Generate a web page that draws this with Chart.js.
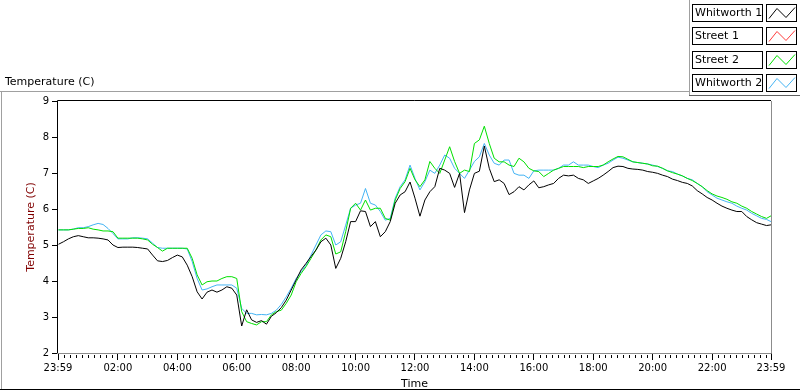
<!DOCTYPE html>
<html>
<head>
<meta charset="utf-8">
<script src="https://cdn.jsdelivr.net/npm/chart.js@4.4.0/dist/chart.umd.min.js"></script>
<style>
  body { margin: 0; background: #fff; }
  #wrap { position: relative; width: 800px; height: 392px; }
</style>
</head>
<body>
<div id="wrap"><canvas id="tempChart"></canvas></div>
<script>
// minutes after midnight (-1 = 23:59 of the day before)
const times = [
  0, 10, 20, 30, 40, 50, 60, 70, 80, 90,
  100, 110, 120, 130, 140, 150, 160, 170, 180, 190,
  200, 210, 220, 230, 240, 250, 260, 270, 280, 290,
  300, 310, 320, 330, 340, 350, 360, 370, 380, 390,
  400, 410, 420, 430, 440, 450, 460, 470, 480, 490,
  500, 510, 520, 530, 540, 550, 560, 570, 580, 590,
  600, 610, 620, 630, 640, 650, 660, 670, 680, 690,
  700, 710, 720, 730, 740, 750, 760, 770, 780, 790,
  800, 810, 820, 830, 840, 850, 860, 870, 880, 890,
  900, 910, 920, 930, 940, 950, 960, 970, 980, 990,
  1000, 1010, 1020, 1030, 1040, 1050, 1060, 1070, 1080, 1090,
  1100, 1110, 1120, 1130, 1140, 1150, 1160, 1170, 1180, 1190,
  1200, 1210, 1220, 1230, 1240, 1250, 1260, 1270, 1280, 1290,
  1300, 1310, 1320, 1330, 1340, 1350, 1360, 1370, 1380, 1390,
  1400, 1410, 1420, 1430, 1439
];

const whitworth1 = [
  5.02, 5.09, 5.17, 5.23, 5.26, 5.23, 5.20, 5.20, 5.19, 5.17,
  5.14, 5.00, 4.93, 4.94, 4.94, 4.94, 4.93, 4.91, 4.89, 4.72,
  4.56, 4.54, 4.57, 4.65, 4.72, 4.67, 4.44, 4.12, 3.70, 3.50,
  3.69, 3.75, 3.69, 3.75, 3.84, 3.80, 3.61, 2.75, 3.20, 2.92,
  2.85, 2.90, 2.80, 3.02, 3.12, 3.26, 3.47, 3.75, 4.03, 4.31,
  4.49, 4.68, 4.86, 5.09, 5.19, 5.00, 4.35, 4.63, 5.09, 5.65,
  5.65, 5.95, 5.93, 5.51, 5.65, 5.23, 5.37, 5.65, 6.16, 6.39,
  6.48, 6.75, 6.30, 5.80, 6.25, 6.48, 6.62, 7.13, 7.08, 6.99,
  6.60, 6.99, 5.90, 6.53, 6.99, 7.05, 7.75, 7.13, 6.76, 6.81,
  6.71, 6.40, 6.48, 6.62, 6.53, 6.67, 6.78, 6.59, 6.62, 6.67,
  6.71, 6.85, 6.94, 6.92, 6.94, 6.85, 6.81, 6.71, 6.78, 6.85,
  6.94, 7.04, 7.15, 7.19, 7.18, 7.13, 7.11, 7.10, 7.08, 7.04,
  7.02, 6.99, 6.94, 6.90, 6.83, 6.79, 6.74, 6.71, 6.64, 6.51,
  6.42, 6.32, 6.25, 6.16, 6.08, 6.02, 5.97, 5.93, 5.93, 5.79,
  5.70, 5.62, 5.58, 5.54, 5.56
];

// Street 1 has no samples drawn in the picture
const street1 = [];

const street2 = [
  5.42, 5.42, 5.42, 5.44, 5.46, 5.46, 5.48, 5.44, 5.42, 5.39,
  5.39, 5.37, 5.19, 5.19, 5.19, 5.19, 5.19, 5.17, 5.14, 5.02,
  4.93, 4.83, 4.91, 4.91, 4.91, 4.91, 4.91, 4.63, 4.17, 3.89,
  3.98, 4.00, 4.00, 4.07, 4.12, 4.12, 4.07, 3.15, 2.87, 2.82,
  2.78, 2.87, 2.87, 3.06, 3.15, 3.19, 3.38, 3.61, 3.98, 4.21,
  4.40, 4.63, 4.86, 5.14, 5.28, 5.23, 4.75, 4.81, 5.37, 6.02,
  6.16, 5.97, 6.25, 5.97, 6.02, 6.02, 5.74, 5.69, 6.25, 6.57,
  6.76, 7.13, 6.81, 6.62, 6.81, 7.32, 7.13, 6.99, 7.36, 7.73,
  7.32, 6.99, 7.08, 7.04, 7.82, 7.92, 8.30, 7.82, 7.41, 7.31,
  7.31, 7.22, 7.18, 7.41, 7.31, 7.13, 7.06, 7.04, 6.90, 6.99,
  7.08, 7.13, 7.18, 7.18, 7.18, 7.18, 7.15, 7.18, 7.18, 7.18,
  7.22, 7.31, 7.39, 7.46, 7.45, 7.38, 7.31, 7.29, 7.27, 7.25,
  7.20, 7.19, 7.13, 7.06, 7.01, 6.97, 6.92, 6.85, 6.79, 6.71,
  6.62, 6.51, 6.42, 6.36, 6.32, 6.27, 6.20, 6.16, 6.08, 6.02,
  5.93, 5.86, 5.79, 5.74, 5.81
];

const whitworth2 = [
  5.42, 5.42, 5.42, 5.44, 5.48, 5.48, 5.51, 5.56, 5.60, 5.57,
  5.46, 5.32, 5.17, 5.17, 5.17, 5.20, 5.20, 5.19, 5.17, 5.05,
  4.93, 4.91, 4.91, 4.91, 4.91, 4.91, 4.89, 4.54, 4.07, 3.75,
  3.78, 3.84, 3.89, 3.89, 3.89, 3.89, 3.80, 3.24, 3.10, 3.10,
  3.06, 3.07, 3.06, 3.10, 3.19, 3.35, 3.56, 3.80, 4.07, 4.26,
  4.44, 4.72, 5.00, 5.28, 5.39, 5.37, 5.00, 5.09, 5.55, 6.02,
  6.11, 6.16, 6.57, 6.16, 6.11, 5.93, 5.69, 5.74, 6.30, 6.62,
  6.81, 7.22, 6.85, 6.53, 6.76, 7.08, 6.99, 7.22, 7.50, 7.41,
  7.13, 6.99, 6.85, 7.08, 7.32, 7.45, 7.82, 7.50, 7.27, 7.22,
  7.36, 7.36, 6.99, 6.94, 6.94, 6.85, 7.06, 7.08, 7.08, 7.08,
  7.08, 7.13, 7.22, 7.22, 7.31, 7.22, 7.22, 7.22, 7.18, 7.15,
  7.22, 7.27, 7.36, 7.44, 7.41, 7.36, 7.31, 7.29, 7.27, 7.25,
  7.22, 7.18, 7.13, 7.06, 7.04, 6.97, 6.92, 6.85, 6.81, 6.71,
  6.62, 6.48, 6.39, 6.30, 6.25, 6.20, 6.16, 6.08, 6.02, 5.97,
  5.88, 5.81, 5.74, 5.71, 5.65
];

const majorTicks = [-1, 120, 240, 360, 480, 600, 720, 840, 960, 1080, 1200, 1320, 1439];
const tickLabels = ['23:59', '02:00', '04:00', '06:00', '08:00', '10:00', '12:00',
                    '14:00', '16:00', '18:00', '20:00', '22:00', '23:59'];
const minorStep = 12;

const seriesNames = ['Whitworth 1', 'Street 1', 'Street 2', 'Whitworth 2'];
const seriesColors = ['#000000', '#ff3c3c', '#00e000', '#44b4f4'];

Chart.defaults.font.family = 'DejaVu Sans';
Chart.defaults.color = '#000';

const toPoints = vals => vals.map((v, i) => ({ x: times[i], y: v }));

const datasets = [whitworth1, street1, street2, whitworth2].map((vals, i) => ({
  label: seriesNames[i],
  data: toPoints(vals),
  borderColor: seriesColors[i],
  borderWidth: 1,
  pointRadius: 0,
  tension: 0,
  fill: false
}));

// frame, minor ticks and the boxed legend
const panelPlugin = {
  id: 'panel',
  beforeDraw(chart) {
    const c = chart.ctx;
    c.save();
    c.fillStyle = '#fff';
    c.fillRect(0, 0, chart.width, chart.height);
    c.restore();
  },
  afterDraw(chart) {
    const c = chart.ctx;
    const a = chart.chartArea;
    const xs = chart.scales.x;
    c.save();
    c.lineWidth = 1;

    // plot border: dark top/left, grey right/bottom
    c.strokeStyle = '#000';
    c.beginPath();
    c.moveTo(a.left - 0.5, a.bottom);
    c.lineTo(a.left - 0.5, a.top - 0.5);
    c.lineTo(a.right, a.top - 0.5);
    c.stroke();
    c.strokeStyle = '#8c8c8c';
    c.beginPath();
    c.moveTo(a.right + 0.5, a.top);
    c.lineTo(a.right + 0.5, a.bottom + 0.5);
    c.lineTo(a.left - 1, a.bottom + 0.5);
    c.stroke();

    // minor ticks on time axis
    c.strokeStyle = '#000';
    c.beginPath();
    for (let m = minorStep; m < 1439; m += minorStep) {
      if (m % 120 === 0) continue;
      const px = Math.round(xs.getPixelForValue(m)) + 0.5;
      c.moveTo(px, a.bottom + 2);
      c.lineTo(px, a.bottom + 5);
    }
    c.stroke();

    // outer panel lines
    c.strokeStyle = '#a0a0a0';
    c.beginPath();
    c.moveTo(0, 91.5); c.lineTo(690, 91.5);
    c.moveTo(1.5, 91); c.lineTo(1.5, 390);
    c.moveTo(689.5, 0); c.lineTo(689.5, 95);
    c.stroke();
    c.strokeStyle = '#606060';
    c.beginPath();
    c.moveTo(689, 95.5); c.lineTo(800, 95.5);
    c.stroke();
    c.strokeStyle = '#000';
    c.beginPath();
    c.moveTo(0, 389.5); c.lineTo(800, 389.5);
    c.stroke();

    // top-left caption
    c.fillStyle = '#000';
    c.font = '11px "DejaVu Sans"';
    c.textBaseline = 'middle';
    c.textAlign = 'left';
    c.fillText('Temperature (C)', 5, 82);

    // legend boxes
    chart.data.datasets.forEach((ds, i) => {
      const top = 3.5 + i * 23.6;
      const t = Math.round(top) + 0.5;
      c.fillStyle = '#fff';
      c.fillRect(692.5, t, 70, 17);
      c.fillRect(766.5, t, 30, 17);
      c.strokeStyle = '#000';
      c.strokeRect(692.5, t, 70, 17);
      c.strokeRect(766.5, t, 30, 17);
      c.fillStyle = '#000';
      c.fillText(ds.label, 695, t + 9);
      c.strokeStyle = ds.borderColor;
      c.beginPath();
      c.moveTo(769, t + 14);
      c.lineTo(777, t + 4);
      c.lineTo(786, t + 13);
      c.lineTo(795, t + 3);
      c.stroke();
    });
    c.restore();
  }
};

new Chart(document.getElementById('tempChart').getContext('2d'), {
  type: 'line',
  data: { datasets },
  options: {
    responsive: true,
    maintainAspectRatio: false,
    animation: false,
    layout: { padding: { top: 101, right: 29, left: 0, bottom: 0 } },
    plugins: {
      legend: { display: false },
      tooltip: { enabled: false }
    },
    scales: {
      x: {
        type: 'linear',
        min: -1,
        max: 1439,
        afterBuildTicks: s => { s.ticks = majorTicks.map(v => ({ value: v })); },
        afterFit: s => { s.height = 39; },
        ticks: {
          autoSkip: false,
          maxRotation: 0,
          padding: 2,
          font: { size: 10 },
          callback: (v, i) => tickLabels[i]
        },
        grid: { drawOnChartArea: false, drawTicks: true, tickLength: 7, color: '#000' },
        border: { display: false },
        title: {
          display: true,
          text: 'Time',
          color: '#000',
          font: { size: 11 },
          padding: { top: 0, bottom: 1 }
        }
      },
      y: {
        min: 2,
        max: 9,
        afterFit: s => { s.width = 58; },
        ticks: { stepSize: 1, padding: 3, font: { size: 10 } },
        grid: { drawOnChartArea: false, drawTicks: true, tickLength: 6, color: '#000' },
        border: { display: false },
        title: {
          display: true,
          text: 'Temperature (C)',
          color: '#800000',
          font: { size: 11 },
          padding: { top: 25, bottom: 0 }
        }
      }
    }
  },
  plugins: [panelPlugin]
});
</script>
</body>
</html>
